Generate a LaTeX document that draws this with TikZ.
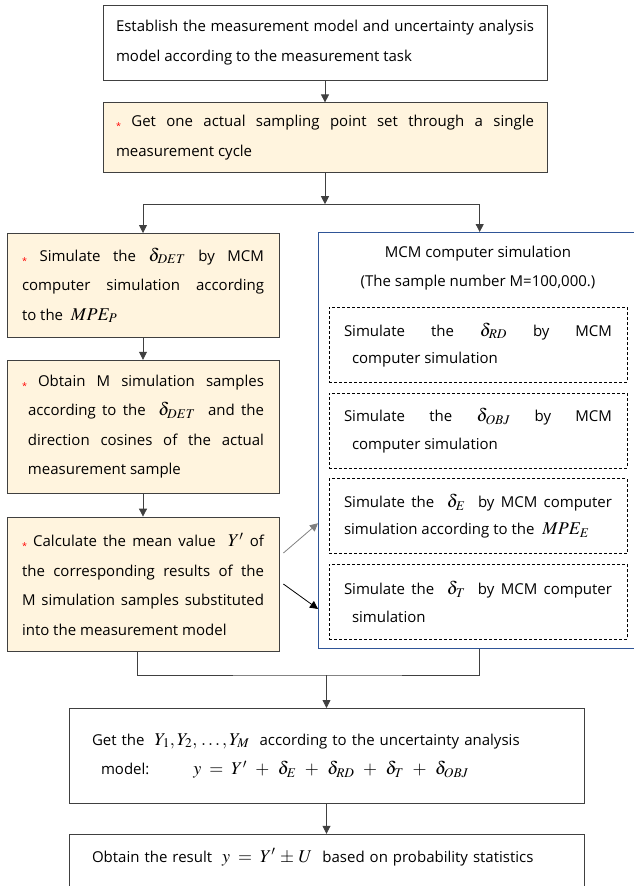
\documentclass[tikz,border=0pt]{standalone}
\usepackage{mathptmx}
\usepackage{fontspec}
\setmainfont{Open Sans}
\usetikzlibrary{positioning,arrows.meta,calc}
\definecolor{boxfill}{HTML}{FFF4DE}
\definecolor{mcmblue}{HTML}{2F5597}
\definecolor{linegray}{HTML}{404040}
\newcommand{\mstar}{\textcolor{red}{\raisebox{-3pt}{\small *}}\ }
\newcommand{\mth}[1]{{\fontsize{18}{18}\selectfont$#1$}}

\begin{document}
\begin{tikzpicture}[
  x=1pt, y=-1pt,
  block/.style={rectangle, draw=linegray, line width=0.8pt, inner xsep=13pt, align=justify, font=\fontsize{15}{29.5}\selectfont},
  wide/.style={block, text width=418pt},
  sidebox/.style={block, fill=boxfill, inner xsep=15pt, text width=242pt},
  simbox/.style={rectangle, draw=black, dashed, dash pattern=on 3pt off 2pt, line width=0.7pt, inner xsep=15pt, text width=268pt, minimum height=75pt, align=justify, font=\fontsize{15}{27.5}\selectfont},
  flow/.style={-{Triangle[width=8pt,length=8pt]}, draw=linegray, line width=0.8pt},
  line/.style={draw=linegray, line width=0.8pt}
]
\useasboundingbox (0,0) rectangle (633,886);

\node[wide, minimum height=75pt] (est) at (325,42.5) {Establish the measurement model and uncertainty analysis\linebreak model according to the measurement task};
\node[wide, fill=boxfill, minimum height=70pt, below=22pt of est] (get) {\mstar Get one actual sampling point set through a single\linebreak measurement cycle};

\node[sidebox, minimum height=104pt, anchor=north] (sim) at (143,233) {\mstar Simulate the \mth{\delta_{DET}} by MCM\linebreak computer simulation according\linebreak to the \ \mth{MPE_P}};
\node[sidebox, minimum height=133pt, below=22pt of sim] (obt) {\mstar Obtain M simulation samples\linebreak\hspace*{6pt}according to the \ \mth{\delta_{DET}} \ and the\linebreak\hspace*{6pt}direction cosines of the actual\linebreak\hspace*{6pt}measurement sample};
\node[sidebox, minimum height=134pt, below=23pt of obt] (calc) {\mstar Calculate the mean value \ \mth{Y'} of\linebreak the corresponding results of the\linebreak M simulation samples substituted\linebreak into the measurement model};

\node[draw=mcmblue, line width=1.4pt, minimum width=322pt, minimum height=416pt, anchor=north west] (mcm) at (318,232) {};
\node[align=center, font=\fontsize{15}{29.5}\selectfont] (mcmtitle) at (478,268) {MCM computer simulation\\(The sample number M=100,000.)};
\node[simbox, anchor=north] (simRD) at (478,307) {Simulate the \mth{\delta_{RD}} by MCM\linebreak\hspace*{8pt}computer simulation};
\node[simbox, below=10pt of simRD] (simOBJ) {Simulate the \mth{\delta_{OBJ}} by MCM\linebreak\hspace*{8pt}computer simulation};
\node[simbox, below=10pt of simOBJ] (simE) {Simulate the \ \mth{\delta_E} \ by MCM computer\linebreak simulation according to the \ \mth{MPE_E}};
\node[simbox, below=10pt of simE] (simT) {Simulate the \ \mth{\delta_T} \ by MCM computer\linebreak\hspace*{8pt}simulation};

\node[block, inner xsep=23pt, text width=469pt, minimum height=95pt, align=left, anchor=north] (res) at (326.5,708) {Get the \ \mth{Y_1, Y_2, \,.\,.\,.\,,Y_M} \ according to the uncertainty analysis\\\hspace*{9pt}model:\hspace{44pt}\mth{y \;=\; Y' \;\,+\;\, \delta_E \;\,+\;\, \delta_{RD} \;\,+\;\, \delta_T \;\,+\;\, \delta_{OBJ}}};
\node[block, inner xsep=23pt, text width=469pt, align=left, inner ysep=12pt, text height=16pt, text depth=40pt, below=30pt of res] (fin) {Obtain the result \ \mth{y \;=\; Y' \,\pm\, U} \ based on probability statistics};

\coordinate[below=31pt of get.south] (split);
\coordinate[above=33pt of res.north] (merge);

\draw[flow] (est) -- (get);
\draw[flow] (get) -- (split);
\draw[flow] (split) -| (sim);
\draw[flow] (split) -| (mcm);
\draw[flow] (sim) -- (obt);
\draw[flow] (obt) -- (calc);
\draw[flow, draw=gray] ($(calc.east)+(4pt,31pt)$) -- ($(mcm.west |- simE.west)+(0,-7pt)$);
\draw[flow, draw=black] ($(calc.east)+(4pt,0)$) -- ($(mcm.west |- simT.west)+(0,-7pt)$);
\draw[line] ([xshift=-6pt]calc.south) |- (merge) -| (mcm.south);
\draw[flow] (merge) -- (res);
\draw[flow] (res) -- (fin);
\end{tikzpicture}
\end{document}
